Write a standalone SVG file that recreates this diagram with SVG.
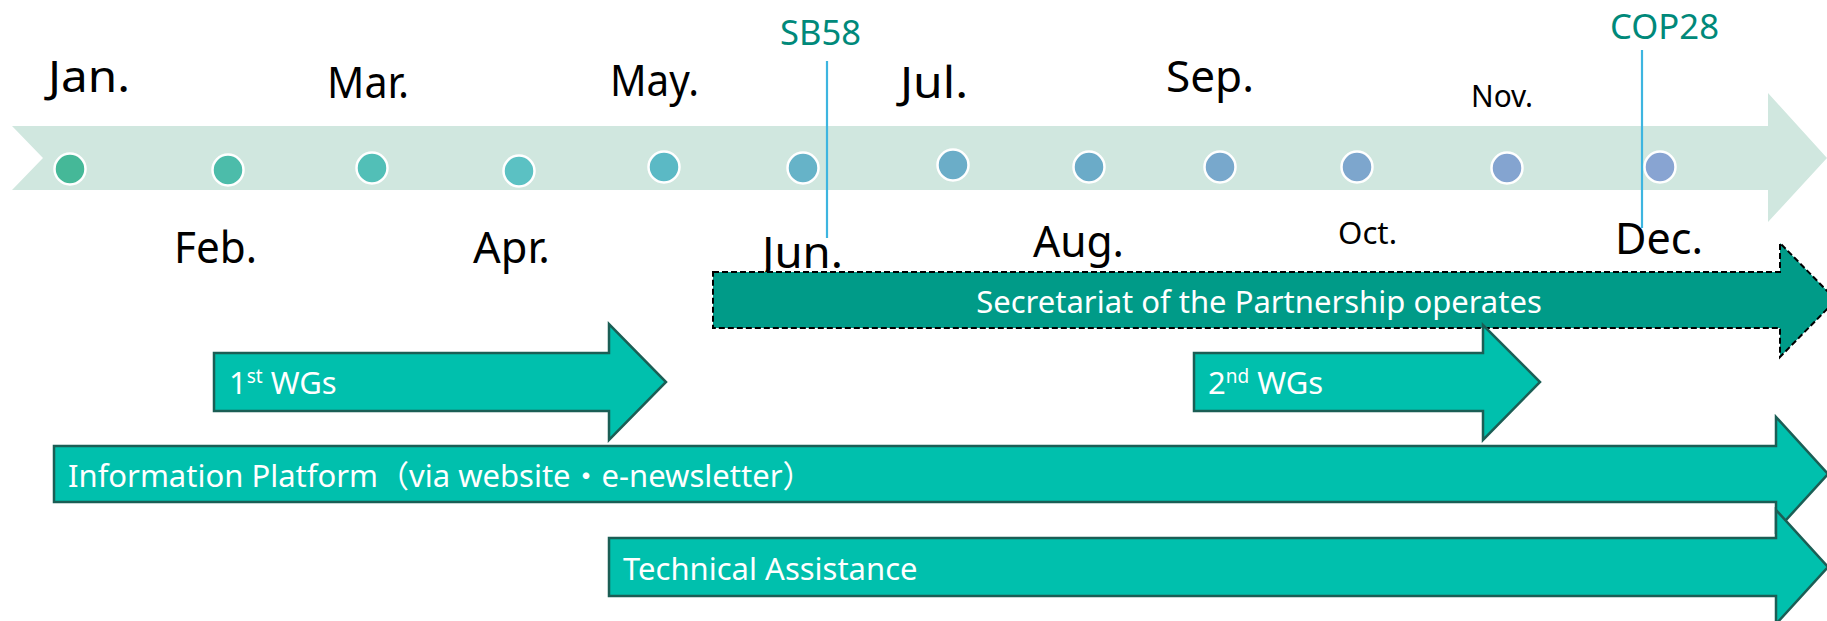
<svg xmlns="http://www.w3.org/2000/svg" width="1827" height="621" viewBox="0 0 1827 621">
<style>
.month{font-family:"Noto Sans","DejaVu Sans",sans-serif;font-size:44px;fill:#000}
.msmall{font-family:"Noto Sans","DejaVu Sans",sans-serif;font-size:31px;fill:#000}
.event{font-family:"Noto Sans","DejaVu Sans",sans-serif;font-size:35px;fill:#00897a}
.lbl{font-family:"Noto Sans","Noto Sans CJK JP",sans-serif;font-size:31px;fill:#fff}
.sup{font-size:19px}
.dot{stroke:#fff;stroke-width:2.5}
.act{fill:#00c0ad;stroke:#1b5e55;stroke-width:2.5;stroke-linejoin:miter}
.sec{fill:#009b88;stroke:#000;stroke-width:2;stroke-dasharray:6 3}
.mark{stroke:#3db5e0;stroke-width:2.2;fill:none}
</style>
<rect width="1827" height="621" fill="#fff"/>
<g id="timeline">
<polygon points="12,126 1768,126 1768,93 1827,158 1768,222 1768,190 12,190 43,158" fill="#d0e7df"/>
<circle class="dot" cx="70" cy="169" r="15.5" fill="#45b898"/>
<circle class="dot" cx="228" cy="170" r="15.5" fill="#4cbcaa"/>
<circle class="dot" cx="372" cy="168" r="15.5" fill="#52bfb7"/>
<circle class="dot" cx="519" cy="171" r="15.5" fill="#5bc1c3"/>
<circle class="dot" cx="664" cy="167" r="15.5" fill="#5bb9c5"/>
<circle class="dot" cx="803" cy="168" r="15.5" fill="#66b3c8"/>
<circle class="dot" cx="953" cy="165" r="15.5" fill="#6badc8"/>
<circle class="dot" cx="1089" cy="167" r="15.5" fill="#6babc8"/>
<circle class="dot" cx="1220" cy="167" r="15.5" fill="#78a8cc"/>
<circle class="dot" cx="1357" cy="167" r="15.5" fill="#7da6cd"/>
<circle class="dot" cx="1507" cy="168" r="15.5" fill="#84a4d0"/>
<circle class="dot" cx="1660" cy="167" r="15.5" fill="#88a4d2"/>
</g>
<g id="months">
<text class="month" x="48" y="92" textLength="82" lengthAdjust="spacingAndGlyphs">Jan.</text>
<text class="month" x="174" y="263" textLength="83" lengthAdjust="spacingAndGlyphs">Feb.</text>
<text class="month" x="327" y="98" textLength="82" lengthAdjust="spacingAndGlyphs">Mar.</text>
<text class="month" x="473" y="263" textLength="77" lengthAdjust="spacingAndGlyphs">Apr.</text>
<text class="month" x="610" y="96" textLength="89" lengthAdjust="spacingAndGlyphs">May.</text>
<text class="month" x="762" y="268" textLength="81" lengthAdjust="spacingAndGlyphs">Jun.</text>
<text class="month" x="900" y="98" textLength="68" lengthAdjust="spacingAndGlyphs">Jul.</text>
<text class="month" x="1033" y="257" textLength="91" lengthAdjust="spacingAndGlyphs">Aug.</text>
<text class="month" x="1166" y="92" textLength="88" lengthAdjust="spacingAndGlyphs">Sep.</text>
<text class="msmall" x="1338" y="244" textLength="59" lengthAdjust="spacingAndGlyphs">Oct.</text>
<text class="msmall" x="1471" y="107" textLength="62" lengthAdjust="spacingAndGlyphs">Nov.</text>
<text class="month" x="1615" y="254" textLength="88" lengthAdjust="spacingAndGlyphs">Dec.</text>
</g>
<g id="connectors">
<line class="mark" x1="827" y1="61" x2="827" y2="238"/>
<line class="mark" x1="1642" y1="50" x2="1642" y2="228"/>
</g>
<g id="sb58"><text class="event" x="780" y="45" textLength="81" lengthAdjust="spacingAndGlyphs">SB58</text></g>
<g id="cop28"><text class="event" x="1610" y="39" textLength="109" lengthAdjust="spacingAndGlyphs">COP28</text></g>
<g id="secretariat">
<polygon class="sec" points="713,272 1780,272 1780,243 1836,300 1780,357 1780,328 713,328"/>
<text class="lbl" x="1259" y="313" text-anchor="middle">Secretariat of the Partnership operates</text>
</g>
<g id="wg1">
<polygon class="act" points="214,353 609,353 609,324 666,382 609,440 609,411 214,411"/>
<text class="lbl" x="229" y="394">1<tspan class="sup" dy="-11">st</tspan><tspan dy="11"> WGs</tspan></text>
</g>
<g id="wg2">
<polygon class="act" points="1194,353 1483,353 1483,325 1540,382 1483,440 1483,411 1194,411"/>
<text class="lbl" x="1208" y="394">2<tspan class="sup" dy="-11">nd</tspan><tspan dy="11"> WGs</tspan></text>
</g>
<g id="info">
<polygon class="act" points="54,446 1776,446 1776,417 1828,474 1776,531 1776,502 54,502"/>
<text class="lbl" x="68" y="487">Information Platform（via website・e-newsletter）</text>
</g>
<g id="ta">
<polygon class="act" points="609,538 1776,538 1776,510 1828,567 1776,624 1776,596 609,596"/>
<text class="lbl" x="623" y="580">Technical Assistance</text>
</g>
</svg>
